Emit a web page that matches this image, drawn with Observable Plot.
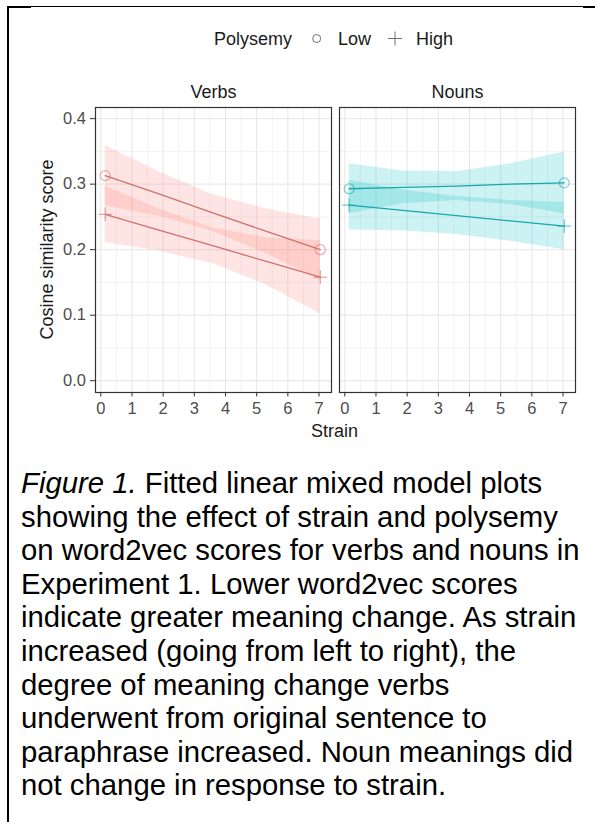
<!DOCTYPE html>
<html><head><meta charset="utf-8">
<script src="https://cdn.jsdelivr.net/npm/d3@7"></script>
<script src="https://cdn.jsdelivr.net/npm/@observablehq/plot@0.6"></script>
<style>
body{margin:0;background:#fff;}
#page{position:relative;width:595px;height:822px;overflow:hidden;font-family:"Liberation Sans",Arial,sans-serif;background:#fff;}
.abs{position:absolute;}
#caption{position:absolute;left:21px;top:466px;font-size:29.3px;line-height:33.6px;color:#000;white-space:nowrap;}
</style></head>
<body><div id="page"></div>
<script>
// ---- data ----
const facets = ["Verbs", "Nouns"];
const polysemyLevels = ["Low", "High"];
const strainPts = [0.14, 1.865, 3.59, 5.315, 7.04];
const xTicks = [0, 1, 2, 3, 4, 5, 6, 7];
const xMinor = [0.5, 1.5, 2.5, 3.5, 4.5, 5.5, 6.5];
const yTicks = [0, 0.1, 0.2, 0.3, 0.4];
const yMinor = [0.05, 0.15, 0.25, 0.35];

const verbsLowFit   = [0.313, 0.285, 0.256, 0.228, 0.200];
const verbsLowLower = [0.267, 0.251, 0.228, 0.194, 0.153];
const verbsLowUpper = [0.359, 0.319, 0.284, 0.262, 0.247];
const verbsHighFit   = [0.254, 0.230, 0.206, 0.182, 0.158];
const verbsHighLower = [0.211, 0.198, 0.179, 0.146, 0.102];
const verbsHighUpper = [0.297, 0.262, 0.233, 0.218, 0.214];
const nounsLowFit   = [0.293, 0.295, 0.297, 0.300, 0.302];
const nounsLowLower = [0.255, 0.270, 0.275, 0.269, 0.255];
const nounsLowUpper = [0.331, 0.320, 0.319, 0.331, 0.349];
const nounsHighFit   = [0.268, 0.260, 0.252, 0.244, 0.236];
const nounsHighLower = [0.230, 0.229, 0.223, 0.213, 0.200];
const nounsHighUpper = [0.306, 0.291, 0.281, 0.275, 0.272];

const captionLines = [
  ["Figure 1.", " Fitted linear mixed model plots"],
  ["", "showing the effect of strain and polysemy"],
  ["", "on word2vec scores for verbs and nouns in"],
  ["", "Experiment 1. Lower word2vec scores"],
  ["", "indicate greater meaning change. As strain"],
  ["", "increased (going from left to right), the"],
  ["", "degree of meaning change verbs"],
  ["", "underwent from original sentence to"],
  ["", "paraphrase increased. Noun meanings did"],
  ["", "not change in response to strain."]
];

const lineColor = {Verbs: "#cf716c", Nouns: "#17a8ac"};
const fillColor = {Verbs: "#F8766D", Nouns: "#00BFC4"};

// ---- build table ----
const series = {
  Verbs: {Low: [verbsLowFit, verbsLowLower, verbsLowUpper], High: [verbsHighFit, verbsHighLower, verbsHighUpper]},
  Nouns: {Low: [nounsLowFit, nounsLowLower, nounsLowUpper], High: [nounsHighFit, nounsHighLower, nounsHighUpper]}
};
const rows = [];
for (const word of facets) for (const poly of polysemyLevels) {
  const [fit, lo, hi] = series[word][poly];
  strainPts.forEach((x, i) => rows.push({word, poly, x, fit: fit[i], lo: lo[i], hi: hi[i], end: i === 0 || i === strainPts.length - 1}));
}

const marks = [
  Plot.gridX(xMinor, {stroke: "#f0f0f0", strokeOpacity: 1, strokeWidth: 0.8}),
  Plot.gridY(yMinor, {stroke: "#f0f0f0", strokeOpacity: 1, strokeWidth: 0.8}),
  Plot.gridX(xTicks, {stroke: "#e6e6e6", strokeOpacity: 1, strokeWidth: 1}),
  Plot.gridY(yTicks, {stroke: "#e6e6e6", strokeOpacity: 1, strokeWidth: 1})
];
for (const word of facets) {
  const d = rows.filter(r => r.word === word);
  marks.push(Plot.areaY(d, {fx: "word", x: "x", y1: "lo", y2: "hi", z: "poly", fill: fillColor[word], fillOpacity: 0.2}));
}
for (const word of facets) {
  const d = rows.filter(r => r.word === word);
  marks.push(Plot.line(d, {fx: "word", x: "x", y: "fit", z: "poly", stroke: lineColor[word], strokeWidth: 1.3}));
  marks.push(Plot.dot(d.filter(r => r.end && r.poly === "Low"), {fx: "word", x: "x", y: "fit", r: 5, symbol: "circle", fill: "none", stroke: lineColor[word], strokeOpacity: 0.55, strokeWidth: 1.2}));
  marks.push(Plot.dot(d.filter(r => r.end && r.poly === "High"), {fx: "word", x: "x", y: "fit", r: 4.5, symbol: "plus", stroke: lineColor[word], strokeOpacity: 0.75, strokeWidth: 1}));
}
marks.push(
  Plot.frame({stroke: "#333", strokeWidth: 1.2}),
  Plot.axisX(xTicks, {tickSize: 4.5, tickPadding: 5.5, fontSize: 16.5, tickFormat: d => String(d), stroke: "#333", fill: "#4d4d4d", label: null}),
  Plot.axisY(yTicks, {tickSize: 5, tickPadding: 4.5, fontSize: 16.5, tickFormat: d => d.toFixed(1), stroke: "#333", fill: "#4d4d4d", label: null}),
  Plot.text(facets, {fx: d => d, text: d => d, frameAnchor: "top", lineAnchor: "middle", dy: -15, fontSize: 18, fill: "#1a1a1a"})
);

const chart = Plot.plot({
  width: 595, height: 380,
  marginLeft: 94, marginRight: 20, marginTop: 47, marginBottom: 48,
  style: {fontFamily: "'Liberation Sans', Arial, sans-serif", fontSize: "16px", background: "transparent", overflow: "visible"},
  fx: {domain: facets, paddingInner: 0.033, paddingOuter: 0, axis: null, label: null},
  x: {domain: [-0.17, 7.4], axis: null, label: null},
  y: {domain: [-0.018, 0.417], axis: null, label: null},
  marks
});

const page = document.getElementById("page");
chart.style.position = "absolute";
chart.style.left = "0px";
chart.style.top = "60px";
page.appendChild(chart);

// ---- overlay: legend and axis titles ----
const ov = d3.select(page).append("svg").attr("class", "abs")
  .attr("width", 595).attr("height", 460)
  .style("left", "0px").style("top", "0px")
  .style("font-family", "'Liberation Sans', Arial, sans-serif");
ov.append("text").attr("x", 214).attr("y", 45).attr("font-size", 18).attr("fill", "#1a1a1a").text("Polysemy");
ov.append("circle").attr("cx", 316.7).attr("cy", 38.5).attr("r", 4).attr("fill", "none").attr("stroke", "#6e6e6e").attr("stroke-width", 1);
ov.append("text").attr("x", 338).attr("y", 45).attr("font-size", 18).attr("fill", "#1a1a1a").text(polysemyLevels[0]);
ov.append("path").attr("d", "M388,38.5h14M395,31.5v14").attr("stroke", "#6e6e6e").attr("stroke-width", 1).attr("fill", "none");
ov.append("text").attr("x", 416).attr("y", 45).attr("font-size", 18).attr("fill", "#1a1a1a").text(polysemyLevels[1]);
ov.append("text").attr("x", 334.5).attr("y", 436.5).attr("text-anchor", "middle").attr("font-size", 18).attr("fill", "#1a1a1a").text("Strain");
ov.append("text").attr("transform", "translate(52.5,249.5) rotate(-90)").attr("text-anchor", "middle").attr("font-size", 18).attr("fill", "#1a1a1a").text("Cosine similarity score");

// ---- scan border ----
const border = [
  [7, 6, 588, 1.2], [7, 6, 24, 2.2], [583, 6, 12, 2.3], [7, 6, 2.2, 816]
];
for (const [l, t, w, h] of border) {
  d3.select(page).append("div").attr("class", "abs")
    .style("left", l + "px").style("top", t + "px").style("width", w + "px").style("height", h + "px").style("background", "#000");
}

// ---- caption ----
const cap = d3.select(page).append("div").attr("id", "caption");
captionLines.forEach(([it, rest], i) => {
  if (it) cap.append("i").text(it);
  cap.append("span").text(rest);
  if (i < captionLines.length - 1) cap.append("br");
});
</script>
</body></html>
